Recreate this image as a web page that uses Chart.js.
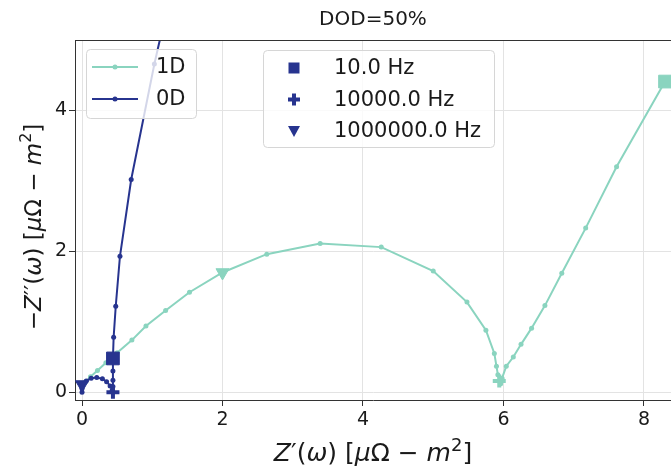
<!DOCTYPE html>
<html>
<head>
<meta charset="utf-8">
<script src="https://cdn.jsdelivr.net/npm/chart.js@4.4.1/dist/chart.umd.min.js"></script>
<style>
  html, body { margin:0; padding:0; background:#fff; overflow:hidden; }
  canvas { display:block; }
</style>
</head>
<body>
<canvas id="nyquist" width="671" height="466"></canvas>
<script>
// 1D model (teal)
const x1D = [0.0, 0.05, 0.12, 0.22, 0.34, 0.50, 0.71, 0.91, 1.19, 1.53, 2.00, 2.63, 3.39, 4.26, 5.00, 5.48, 5.75, 5.87, 5.90, 5.92, 5.94, 5.96, 5.98, 6.04, 6.14, 6.25, 6.40, 6.59, 6.83, 7.17, 7.61, 8.30];
const y1D = [0.10, 0.15, 0.22, 0.31, 0.42, 0.56, 0.74, 0.94, 1.16, 1.42, 1.70, 1.96, 2.11, 2.06, 1.72, 1.28, 0.88, 0.55, 0.37, 0.25, 0.16, 0.12, 0.20, 0.37, 0.50, 0.68, 0.91, 1.23, 1.69, 2.33, 3.20, 4.41];
// 0D model (navy)
const x0D = [0.0, 0.0, 0.01, 0.06, 0.13, 0.21, 0.29, 0.35, 0.40, 0.43, 0.44, 0.44, 0.44, 0.44, 0.44, 0.45, 0.48, 0.54, 0.70, 1.03, 1.45];
const y0D = [0.0, 0.05, 0.11, 0.16, 0.20, 0.21, 0.19, 0.15, 0.09, 0.03, 0.0, 0.08, 0.17, 0.30, 0.48, 0.78, 1.22, 1.93, 3.02, 4.66, 6.50];
// frequency markers: 10 Hz, 10 kHz, 1 MHz
const freqLabels = ['10.0 Hz', '10000.0 Hz', '1000000.0 Hz'];
const mark1Dx = [8.30, 5.94, 2.00];
const mark1Dy = [4.41, 0.16, 1.70];
const mark0Dx = [0.44, 0.44, 0.0];
const mark0Dy = [0.48, 0.0, 0.11];
const seriesNames = ['1D', '0D'];
const xTicks = [0, 2, 4, 6, 8];
const yTicks = [0, 2, 4];

const C1 = '#8ad4bf';
const C0 = '#27348f';
const FONT = '"DejaVu Sans", sans-serif';

const pts = (xs, ys) => xs.map((x, i) => ({ x: x, y: ys[i] }));
const styles = ['rect', 'cross', 'triangle'];
const radii = [9, 6.5, 7.5];

const markerSets = [];
[[mark0Dx, mark0Dy, C0], [mark1Dx, mark1Dy, C1]].forEach(function(m){
  for (let i = 0; i < 3; i++) {
    markerSets.push({
      data: [{ x: m[0][i], y: m[1][i] }],
      showLine: false,
      pointStyle: styles[i],
      rotation: i === 2 ? 180 : 0,
      pointRadius: radii[i],
      pointBorderWidth: i === 1 ? 4 : 1,
      backgroundColor: m[2],
      borderColor: m[2]
    });
  }
});

function richText(ctx, segs, size) {
  let w = 0;
  segs.forEach(function(s){
    ctx.font = (s[1] === 'i' ? 'italic ' : '') + (s[1] === 's' ? Math.round(size*0.7) : size) + 'px ' + FONT;
    s.w = ctx.measureText(s[0]).width; w += s.w;
  });
  return w;
}
function drawRich(ctx, segs, size, x, y) {
  let cx = x;
  segs.forEach(function(s){
    ctx.font = (s[1] === 'i' ? 'italic ' : '') + (s[1] === 's' ? Math.round(size*0.7) : size) + 'px ' + FONT;
    ctx.fillText(s[0], cx, s[1] === 's' ? y - size*0.42 : y);
    cx += s.w;
  });
}

const xLab = [['Z','i'],['′','n'],['(','n'],['ω','i'],[')','n'],[' [','n'],['μ','i'],['Ω','n'],[' − ','n'],['m','i'],['2','s'],[']','n']];
const yLab = [['−','n'],['Z','i'],['′′','n'],['(','n'],['ω','i'],[')','n'],[' [','n'],['μ','i'],['Ω','n'],[' − ','n'],['m','i'],['2','s'],[']','n']];

function roundBox(ctx, x, y, w, h, r) {
  ctx.beginPath();
  ctx.moveTo(x + r, y); ctx.lineTo(x + w - r, y); ctx.quadraticCurveTo(x + w, y, x + w, y + r);
  ctx.lineTo(x + w, y + h - r); ctx.quadraticCurveTo(x + w, y + h, x + w - r, y + h);
  ctx.lineTo(x + r, y + h); ctx.quadraticCurveTo(x, y + h, x, y + h - r);
  ctx.lineTo(x, y + r); ctx.quadraticCurveTo(x, y, x + r, y);
  ctx.closePath();
}

const decor = {
  id: 'decor',
  beforeDraw(chart) {
    const ctx = chart.ctx;
    ctx.save(); ctx.fillStyle = '#fff'; ctx.fillRect(0, 0, chart.width, chart.height); ctx.restore();
  },
  afterDraw(chart) {
    const ctx = chart.ctx, a = chart.chartArea;
    ctx.save();
    // top spine
    ctx.strokeStyle = '#333'; ctx.lineWidth = 1;
    ctx.beginPath(); ctx.moveTo(a.left, a.top + 0.5); ctx.lineTo(a.right, a.top + 0.5); ctx.stroke();

    ctx.fillStyle = '#1a1a1a';
    ctx.textBaseline = 'alphabetic';
    ctx.textAlign = 'center';
    ctx.font = '20px ' + FONT;
    ctx.fillText('DOD=50%', (a.left + a.right) / 2, 25);

    ctx.textAlign = 'left';
    let w = richText(ctx, xLab, 25);
    drawRich(ctx, xLab, 25, (a.left + a.right) / 2 - w / 2, 461);
    ctx.save();
    ctx.translate(41, 227); ctx.rotate(-Math.PI / 2);
    w = richText(ctx, yLab, 23);
    drawRich(ctx, yLab, 23, -w / 2, 0);
    ctx.restore();

    // series legend
    roundBox(ctx, 86.5, 49.5, 110, 69, 4);
    ctx.fillStyle = 'rgba(255,255,255,0.8)'; ctx.fill();
    ctx.strokeStyle = '#d6d6d6'; ctx.stroke();
    [C1, C0].forEach(function(c, i){
      const y = 67 + i * 32;
      ctx.strokeStyle = c; ctx.lineWidth = 2;
      ctx.beginPath(); ctx.moveTo(92, y); ctx.lineTo(138, y); ctx.stroke();
      ctx.fillStyle = c; ctx.beginPath(); ctx.arc(115, y, 2.5, 0, Math.PI * 2); ctx.fill();
      ctx.fillStyle = '#1a1a1a'; ctx.font = '21px ' + FONT; ctx.textBaseline = 'middle';
      ctx.fillText(seriesNames[i], 156, y + 1);
    });

    // frequency legend
    ctx.lineWidth = 1;
    roundBox(ctx, 263.5, 50.5, 231, 97, 4);
    ctx.fillStyle = 'rgba(255,255,255,0.8)'; ctx.fill();
    ctx.strokeStyle = '#d6d6d6'; ctx.stroke();
    freqLabels.forEach(function(t, i){
      const y = 68 + i * 31.5, x = 294;
      ctx.fillStyle = C0; ctx.strokeStyle = C0;
      if (i === 0) ctx.fillRect(x - 5.5, y - 5.5, 11, 11);
      if (i === 1) { ctx.fillRect(x - 6, y - 2, 12, 4); ctx.fillRect(x - 2, y - 6, 4, 12); }
      if (i === 2) { ctx.beginPath(); ctx.moveTo(x - 6, y - 5); ctx.lineTo(x + 6, y - 5); ctx.lineTo(x, y + 6); ctx.closePath(); ctx.fill(); }
      ctx.fillStyle = '#1a1a1a'; ctx.font = '21px ' + FONT; ctx.textBaseline = 'middle';
      ctx.fillText(t, 334, y + 1);
    });
    ctx.restore();
  }
};

new Chart(document.getElementById('nyquist'), {
  type: 'scatter',
  data: {
    datasets: markerSets.concat([
      { data: pts(x0D, y0D), showLine: true, borderColor: C0, backgroundColor: C0, borderWidth: 2, pointRadius: 2.5, pointBorderWidth: 0 },
      { data: pts(x1D, y1D), showLine: true, borderColor: C1, backgroundColor: C1, borderWidth: 2, pointRadius: 2.5, pointBorderWidth: 0 }
    ])
  },
  options: {
    responsive: false,
    animation: false,
    events: [],
    layout: { autoPadding: false, padding: { top: 40, left: 0, right: 0, bottom: 0 } },
    plugins: { legend: { display: false }, tooltip: { enabled: false }, title: { display: false } },
    scales: {
      x: {
        type: 'linear', min: -0.1, max: 8.385,
        afterBuildTicks: s => { s.ticks = xTicks.map(v => ({ value: v })); },
        afterFit: s => { s.height = 66; s.paddingLeft = 0; s.paddingRight = 0; },
        grid: { color: '#e3e3e3', tickColor: '#333', tickLength: 6 },
        border: { color: '#333', width: 1 },
        ticks: { color: '#1a1a1a', padding: 3, font: { family: FONT, size: 19 } }
      },
      y: {
        type: 'linear', min: -0.11, max: 5.0,
        afterBuildTicks: s => { s.ticks = yTicks.map(v => ({ value: v })); },
        afterFit: s => { s.width = 75; s.paddingTop = 0; s.paddingBottom = 0; },
        grid: { color: '#e3e3e3', tickColor: '#333', tickLength: 6 },
        border: { color: '#333', width: 1 },
        ticks: { color: '#1a1a1a', padding: 2, font: { family: FONT, size: 19 } }
      }
    }
  },
  plugins: [decor]
});
</script>
</body>
</html>
